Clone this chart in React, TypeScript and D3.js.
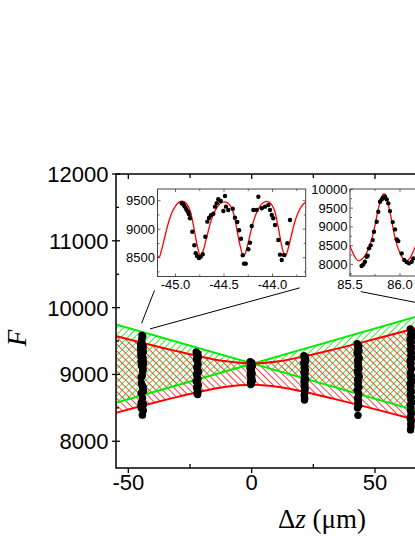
import React, { useEffect, useRef } from 'react';
import * as d3 from 'd3';

// ---- main panel: fitted envelopes ----
const greenZ = [-55, 95];
const greenFallF = [9750, 8160];
const greenRiseF = [8575, 10165];

const redZ = [-55, -44, -33, -22, -11, 0, 11, 22, 33, 44, 55, 66, 80, 95];
const redUpperF = [9575, 9470, 9372, 9277, 9200, 9165, 9198, 9277, 9372, 9473, 9580, 9688, 9821, 9968];
const redLowerF = [8425, 8535, 8638, 8735, 8812, 8845, 8812, 8735, 8638, 8537, 8432, 8326, 8189, 8042];

// ---- measured points [dz, F] ----
const inset1Dots = [
  [-44.936, 9454], [-44.920, 9437], [-44.909, 9407], [-44.895, 9372], [-44.885, 9337], [-44.871, 9302],
  [-44.861, 9261], [-44.851, 9191], [-44.827, 8956], [-44.806, 8718], [-44.792, 8577], [-44.778, 8530],
  [-44.758, 8495], [-44.740, 8518], [-44.720, 8560], [-44.693, 8868], [-44.672, 9132], [-44.655, 9197],
  [-44.634, 9244], [-44.610, 9272], [-44.593, 9395], [-44.575, 9454], [-44.559, 9525], [-44.534, 9495],
  [-44.507, 9319], [-44.479, 9395], [-44.456, 9337], [-44.490, 9582], [-44.410, 9360], [-44.387, 9202],
  [-44.363, 9126], [-44.345, 8981], [-44.325, 8833], [-44.307, 8542], [-44.294, 8395], [-44.276, 8395],
  [-44.249, 8647], [-44.232, 8763], [-44.214, 9056], [-44.198, 9337], [-44.163, 9337], [-44.146, 9570],
  [-44.111, 9367], [-44.077, 9395], [-44.043, 9425], [-44.026, 9337], [-44.008, 9249], [-43.992, 9191],
  [-43.974, 9074], [-43.940, 8811], [-43.923, 8553], [-43.905, 8460], [-43.881, 8547], [-43.847, 8753],
  [-43.820, 9161],
];
const inset2Dots = [
  [85.616, 7955], [85.633, 8000], [85.650, 8069], [85.667, 8203], [85.677, 8230], [85.690, 8427],
  [85.707, 8507], [85.727, 8648], [85.740, 8869], [85.767, 9136], [85.783, 9403], [85.800, 9669],
  [85.817, 9733], [85.833, 9776], [85.850, 9803], [85.867, 9733], [85.883, 9627], [85.900, 9421],
  [85.927, 9128], [85.950, 8933], [85.967, 8667], [85.983, 8621], [86.017, 8293], [86.043, 8115],
  [86.067, 8061], [86.090, 8027], [86.117, 8069], [86.133, 8160],
];
const colM22 = [
  [-22.5, 9335], [-21.8, 9310], [-22.2, 9285], [-21.6, 9262], [-22.4, 9230], [-22.0, 9195], [-21.7, 9150],
  [-22.3, 9110], [-22.0, 9070], [-21.5, 9040], [-22.4, 9005], [-22.1, 8970], [-21.8, 8935], [-22.5, 8900],
  [-22.0, 8870], [-21.6, 8840], [-22.3, 8805], [-22.0, 8775], [-21.7, 8745], [-22.2, 8720], [-21.9, 8700],
];
const col0 = [
  [-0.6, 9192], [0.1, 9172], [-0.3, 9150], [0.3, 9125], [-0.7, 9100], [-0.1, 9075], [-0.4, 9045],
  [0.2, 9015], [-0.6, 8990], [0.0, 8960], [-0.3, 8935], [0.3, 8905], [-0.5, 8880], [-0.1, 8860], [-0.4, 8848],
];
const col22 = [
  [21.2, 9280], [21.8, 9262], [21.4, 9235], [21.9, 9200], [21.1, 9170], [21.6, 9135], [21.3, 9100],
  [21.8, 9065], [21.2, 9030], [21.6, 8995], [21.4, 8960], [21.9, 8925], [21.2, 8890], [21.6, 8855],
  [21.3, 8820], [21.7, 8790], [21.4, 8760], [21.6, 8725], [21.3, 8690], [21.5, 8645], [21.4, 8618],
];
const col44 = [
  [42.8, 9460], [43.4, 9430], [43.0, 9395], [43.5, 9360], [42.7, 9320], [43.2, 9285], [43.6, 9245],
  [42.9, 9205], [43.3, 9165], [43.0, 9125], [43.5, 9085], [42.8, 9045], [43.2, 9005], [43.6, 8965],
  [42.9, 8925], [43.3, 8885], [43.0, 8845], [43.5, 8805], [42.8, 8765], [43.2, 8725], [43.4, 8685],
  [42.9, 8645], [43.3, 8605], [43.0, 8565], [43.4, 8530], [42.9, 8498], [43.1, 8388],
];
const col65 = [
  [64.3, 9680], [64.9, 9645], [64.5, 9605], [65.0, 9565], [64.2, 9525], [64.7, 9485], [64.4, 9445],
  [64.9, 9405], [64.3, 9365], [64.8, 9325], [64.5, 9285], [64.9, 9245], [64.2, 9205], [64.6, 9165],
  [64.4, 9125], [64.8, 9085], [64.3, 9020], [64.7, 8980], [64.5, 8940], [64.9, 8900], [64.2, 8860],
  [64.6, 8820], [64.4, 8780], [64.8, 8740], [64.3, 8700], [64.7, 8660], [64.5, 8620], [64.9, 8580],
  [64.3, 8540], [64.6, 8500], [64.4, 8460], [64.8, 8420], [64.5, 8380], [64.3, 8340], [64.7, 8300],
  [64.5, 8260], [64.6, 8215], [64.4, 8170],
];

// ---- inset fits ----
const inset1FitZ = [
  -45.186, -45.170, -45.142, -45.108, -45.073, -45.038, -45.004, -44.970, -44.928, -44.883, -44.848, -44.814, -44.779,
  -44.739, -44.710, -44.675, -44.640, -44.603, -44.568, -44.533, -44.490, -44.444, -44.408, -44.373, -44.337,
  -44.296, -44.268, -44.234, -44.200, -44.165, -44.132, -44.097, -44.056, -44.011, -43.977, -43.943, -43.908,
  -43.869, -43.841, -43.807, -43.773, -43.737, -43.703, -43.669, -43.627,
];
const inset1FitF = [
  8530, 8505, 8645, 8880, 9112, 9290, 9396, 9466, 9490, 9438, 9320, 9055, 8735,
  8512, 8648, 8880, 9110, 9285, 9390, 9460, 9480, 9432, 9315, 9050, 8730,
  8518, 8650, 8884, 9115, 9290, 9395, 9465, 9488, 9436, 9318, 9052, 8732,
  8516, 8648, 8882, 9112, 9288, 9394, 9462, 9486,
];
const inset2FitZ = [
  85.500, 85.520, 85.550, 85.585, 85.620, 85.660, 85.700, 85.740, 85.770, 85.800, 85.820, 85.840, 85.860,
  85.880, 85.910, 85.940, 85.970, 86.000, 86.030, 86.065, 86.100, 86.130, 86.150, 86.180, 86.220, 86.259, 86.301, 86.322,
];
const inset2FitF = [
  8488, 8355, 8195, 8096, 8141, 8275, 8515, 8915, 9315, 9661, 9821, 9883, 9821,
  9635, 9261, 8835, 8515, 8301, 8155, 8096, 8168, 8328, 8453, 8648, 8968, 9400, 9820, 9883,
];

// ---- ticks ----
const mainXTicks = [-50, 0, 50];
const mainXMinor = [-25, 25, 75];
const mainYTicks = [8000, 9000, 10000, 11000, 12000];
const mainYMinor = [8500, 9500, 10500, 11500];
const inset1XTicks = [-45.0, -44.5, -44.0];
const inset1XMinor = [-44.75, -44.25, -43.75];
const inset1YTicks = [8500, 9000, 9500];
const inset1YMinor = [8250, 8750, 9250];
const inset2XTicks = [85.5, 86.0];
const inset2XMinor = [85.75, 86.25];
const inset2YTicks = [8000, 8500, 9000, 9500, 10000];
const inset2YMinor = [7750, 8250, 8750, 9250, 9750];

// zoom connectors, in main-panel data units
const connectors = [
  [[-44.6, 9767], [-39.4, 10258]],
  [[-41.2, 9682], [19.5, 10296]],
  [[44.2, 10240], [86.0, 9936]],
];

const sans = 'Liberation Sans, Arial, sans-serif';
const serif = 'Liberation Serif, Times New Roman, serif';

export default function App() {
  const ref = useRef<SVGSVGElement>(null);

  useEffect(() => {
    const svg = d3.select(ref.current);
    svg.selectAll('*').remove();

    const L = 116, T = 174, R = 486, B = 468;
    const x = d3.scaleLinear().domain([-55, 95]).range([L, R]);
    const y = d3.scaleLinear().domain([7600, 12000]).range([B, T]);

    const defs = svg.append('defs');
    defs.append('clipPath').attr('id', 'mainClip')
      .append('rect').attr('x', L).attr('y', T).attr('width', R - L).attr('height', B - T);

    const hatch = (id: string, color: string, angle: number) => {
      const p = defs.append('pattern').attr('id', id)
        .attr('patternUnits', 'userSpaceOnUse')
        .attr('width', 4.8).attr('height', 4.8)
        .attr('patternTransform', `rotate(${angle})`);
      p.append('line').attr('x1', 2.4).attr('y1', -1).attr('x2', 2.4).attr('y2', 6)
        .attr('stroke', color).attr('stroke-width', 0.9);
    };
    hatch('greenHatch', '#22ee22', 45);
    hatch('redHatch', '#ff3030', -45);

    const plot = svg.append('g').attr('clip-path', 'url(#mainClip)');

    const green = greenZ.map((z, i) => ({ z, a: greenFallF[i], b: greenRiseF[i] }));
    const red = redZ.map((z, i) => ({ z, u: redUpperF[i], l: redLowerF[i] }));

    plot.append('path')
      .attr('d', d3.area<any>().x(d => x(d.z)).y0(d => y(d.a)).y1(d => y(d.b))(green))
      .attr('fill', 'url(#greenHatch)');
    plot.append('path')
      .attr('d', d3.area<any>().curve(d3.curveMonotoneX).x(d => x(d.z)).y0(d => y(d.l)).y1(d => y(d.u))(red))
      .attr('fill', 'url(#redHatch)');

    const gLine = d3.line<any>().x(d => x(d[0])).y(d => y(d[1]));
    const rLine = d3.line<any>().curve(d3.curveMonotoneX).x(d => x(d[0])).y(d => y(d[1]));
    [greenFallF, greenRiseF].forEach(arr => {
      plot.append('path').attr('d', gLine(greenZ.map((z, i) => [z, arr[i]])))
        .attr('fill', 'none').attr('stroke', '#00ee00').attr('stroke-width', 2);
    });
    [redUpperF, redLowerF].forEach(arr => {
      plot.append('path').attr('d', rLine(redZ.map((z, i) => [z, arr[i]])))
        .attr('fill', 'none').attr('stroke', '#ff0000').attr('stroke-width', 2);
    });

    const allCols = [inset1Dots, colM22, col0, col22, col44, col65, inset2Dots];
    allCols.forEach(col => {
      plot.append('g').selectAll('circle').data(col).enter().append('circle')
        .attr('cx', d => x(d[0])).attr('cy', d => y(d[1])).attr('r', 3.7).attr('fill', '#000');
    });

    // frame & ticks
    svg.append('rect').attr('x', L).attr('y', T).attr('width', R - L).attr('height', B - T)
      .attr('fill', 'none').attr('stroke', '#000').attr('stroke-width', 1.5);
    const ax = svg.append('g').attr('stroke', '#000').attr('stroke-width', 1.3);
    mainXTicks.forEach(v => {
      ax.append('line').attr('x1', x(v)).attr('x2', x(v)).attr('y1', B).attr('y2', B + 5);
      ax.append('line').attr('x1', x(v)).attr('x2', x(v)).attr('y1', T).attr('y2', T + 5);
    });
    mainXMinor.forEach(v => {
      ax.append('line').attr('x1', x(v)).attr('x2', x(v)).attr('y1', B).attr('y2', B - 4);
      ax.append('line').attr('x1', x(v)).attr('x2', x(v)).attr('y1', T).attr('y2', T + 4);
    });
    mainYTicks.forEach(v => {
      ax.append('line').attr('x1', L - 4).attr('x2', L + 4).attr('y1', y(v)).attr('y2', y(v));
    });
    mainYMinor.forEach(v => {
      ax.append('line').attr('x1', L).attr('x2', L + 3).attr('y1', y(v)).attr('y2', y(v));
    });

    svg.append('g').selectAll('text').data(mainXTicks).enter().append('text')
      .attr('x', d => x(d)).attr('y', 490).attr('text-anchor', 'middle')
      .style('font-family', sans).style('font-size', '22px').text(d => String(d));
    svg.append('g').selectAll('text').data(mainYTicks).enter().append('text')
      .attr('x', 108.5).attr('y', d => y(d) + 8).attr('text-anchor', 'end')
      .style('font-family', sans).style('font-size', '22px').text(d => String(d));

    // axis titles
    svg.append('text').attr('transform', 'translate(25.5,338) rotate(-90)')
      .attr('text-anchor', 'middle').style('font-family', serif).style('font-style', 'italic')
      .style('font-size', '27px').text('F');
    const xt = svg.append('text').attr('x', 322).attr('y', 528).attr('text-anchor', 'middle')
      .style('font-family', serif).style('font-size', '27px');
    xt.append('tspan').text('Δ');
    xt.append('tspan').style('font-style', 'italic').text('z');
    xt.append('tspan').text(' (μm)');

    // connectors
    svg.append('g').selectAll('line').data(connectors).enter().append('line')
      .attr('x1', d => x(d[0][0])).attr('y1', d => y(d[0][1]))
      .attr('x2', d => x(d[1][0])).attr('y2', d => y(d[1][1]))
      .attr('stroke', '#000').attr('stroke-width', 1);

    // insets
    const drawInset = (id: string, box: number[], xd: number[], yd: number[], fz: number[], ff: number[],
      dots: number[][], xt1: number[], xm: number[], yt1: number[], ym: number[], xfmt: (v: number) => string) => {
      const [bx, by, bw, bh] = box;
      const ix = d3.scaleLinear().domain(xd).range([bx, bx + bw]);
      const iy = d3.scaleLinear().domain(yd).range([by + bh, by]);
      defs.append('clipPath').attr('id', id).append('rect').attr('x', bx).attr('y', by).attr('width', bw).attr('height', bh);
      const g = svg.append('g');
      g.append('rect').attr('x', bx).attr('y', by).attr('width', bw).attr('height', bh)
        .attr('fill', '#fff').attr('stroke', '#444').attr('stroke-width', 1);
      const inner = g.append('g').attr('clip-path', `url(#${id})`);
      inner.append('path')
        .attr('d', d3.line<number>().curve(d3.curveMonotoneX).x(d => ix(fz[d])).y(d => iy(ff[d]))(d3.range(fz.length)))
        .attr('fill', 'none').attr('stroke', '#ff0000').attr('stroke-width', 1.3);
      inner.selectAll('circle').data(dots).enter().append('circle')
        .attr('cx', d => ix(d[0])).attr('cy', d => iy(d[1])).attr('r', 2.2).attr('fill', '#000');
      const tk = g.append('g').attr('stroke', '#444').attr('stroke-width', 0.8);
      xt1.concat(xm).forEach((v, i) => {
        const len = i < xt1.length ? 3 : 2;
        tk.append('line').attr('x1', ix(v)).attr('x2', ix(v)).attr('y1', by + bh).attr('y2', by + bh - len);
        tk.append('line').attr('x1', ix(v)).attr('x2', ix(v)).attr('y1', by).attr('y2', by + len);
      });
      yt1.concat(ym).forEach((v, i) => {
        const len = i < yt1.length ? 3 : 2;
        tk.append('line').attr('x1', bx).attr('x2', bx + len).attr('y1', iy(v)).attr('y2', iy(v));
        tk.append('line').attr('x1', bx + bw).attr('x2', bx + bw - len).attr('y1', iy(v)).attr('y2', iy(v));
      });
      g.append('g').selectAll('text').data(xt1).enter().append('text')
        .attr('x', d => ix(d)).attr('y', by + bh + 12.5).attr('text-anchor', 'middle')
        .style('font-family', sans).style('font-size', '13px').text(d => xfmt(d));
      g.append('g').selectAll('text').data(yt1).enter().append('text')
        .attr('x', bx - 2.5).attr('y', d => iy(d) + 4.6).attr('text-anchor', 'end')
        .style('font-family', sans).style('font-size', '13px').text(d => String(d));
    };

    const f1 = (v: number) => v.toFixed(1);
    drawInset('in1', [157.5, 189, 148.2, 87.5], [-45.1856, -43.658], [8170, 9705], inset1FitZ, inset1FitF,
      inset1Dots, inset1XTicks, inset1XMinor, inset1YTicks, inset1YMinor, f1);
    drawInset('in2', [350, 189, 148, 87], [85.5, 86.98], [7690, 10010], inset2FitZ, inset2FitF,
      inset2Dots, inset2XTicks, inset2XMinor, inset2YTicks, inset2YMinor, f1);
  }, []);

  return (
    <svg ref={ref} width={415} height={537}
      style={{ position: 'absolute', left: 0, top: 0, background: '#fff' }} />
  );
}
